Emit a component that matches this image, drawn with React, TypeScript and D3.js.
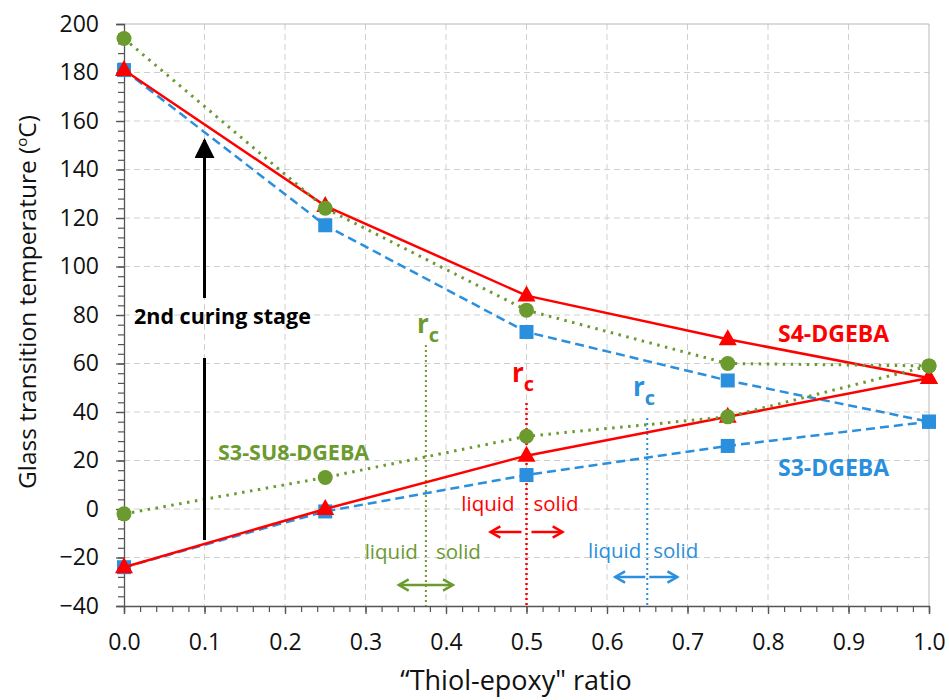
// @ts-nocheck
import React from "react";
import * as d3 from "d3";

const ratios = [0, 0.25, 0.5, 0.75, 1.0];
const s4Upper = [181, 125, 88, 70, 54];
const s4Lower = [-24, 0, 22, 38, 54];
const s3Upper = [181, 117, 73, 53, 36];
const s3Lower = [-24, -1, 14, 26, 36];
const su8Upper = [194, 124, 82, 60, 59];
const su8Lower = [-2, 13, 30, 38, 59];
const xTicks = [0, 0.1, 0.2, 0.3, 0.4, 0.5, 0.6, 0.7, 0.8, 0.9, 1.0];
const yTicks = [-40, -20, 0, 20, 40, 60, 80, 100, 120, 140, 160, 180, 200];
const rcValues = [0.375, 0.5, 0.65];

const RED = "#ff0000";
const BLUE = "#2a8fdc";
const GREEN = "#6b9a2f";
const FONT = "'Open Sans', 'Noto Sans', sans-serif";

const App = () => {
  const svgRef = React.useRef(null);
  const width = 949;
  const height = 700;
  const margin = { left: 124, right: 20, top: 24, bottom: 94 };

  React.useEffect(() => {
    const x = d3.scaleLinear().domain([0, 1]).range([margin.left, width - margin.right]);
    const y = d3.scaleLinear().domain([-40, 200]).range([height - margin.bottom, margin.top]);
    const svg = d3.select(svgRef.current);
    svg.selectAll("*").remove();
    svg.style("font-family", FONT);

    const x0 = x(0), x1 = x(1), yb = y(-40), yt = y(200);

    // dashed grid
    const grid = svg.append("g");
    grid.selectAll(".gx").data(xTicks.slice(1, -1)).enter().append("line")
      .attr("x1", d => x(d)).attr("x2", d => x(d)).attr("y1", yt).attr("y2", yb)
      .attr("stroke", "#cfcfcf").attr("stroke-width", 1).attr("stroke-dasharray", "6,4");
    grid.selectAll(".gy").data(yTicks.slice(1, -1)).enter().append("line")
      .attr("x1", x0).attr("x2", x1).attr("y1", d => y(d)).attr("y2", d => y(d))
      .attr("stroke", "#cfcfcf").attr("stroke-width", 1).attr("stroke-dasharray", "6,4");
    // border top/right
    svg.append("line").attr("x1", x0).attr("x2", x1).attr("y1", yt).attr("y2", yt).attr("stroke", "#b8b8b8");
    svg.append("line").attr("x1", x1).attr("x2", x1).attr("y1", yt).attr("y2", yb).attr("stroke", "#b8b8b8");

    // axes
    const xAxis = d3.axisBottom(x).tickValues(xTicks).tickFormat(d3.format(".1f")).tickSize(8).tickPadding(20);
    const xg = svg.append("g").attr("transform", `translate(0,${yb})`).call(xAxis);
    xg.selectAll("text").attr("font-size", 23).attr("fill", "#111").attr("font-family", FONT);
    xg.selectAll("line, path").attr("stroke", "#555").attr("stroke-width", 1.3);
    const xMinor = d3.axisBottom(x).tickValues(d3.range(0, 1.0001, 0.02)).tickSize(6).tickFormat("");
    const xmg = svg.append("g").attr("transform", `translate(0,${yb})`).call(xMinor);
    xmg.select(".domain").remove();
    xmg.selectAll("line").attr("stroke", "#555").attr("stroke-width", 1.2);

    const yAxis = d3.axisLeft(y).tickValues(yTicks).tickSize(8).tickPadding(17);
    const yg = svg.append("g").attr("transform", `translate(${x0},0)`).call(yAxis);
    yg.selectAll("text").attr("font-size", 23).attr("fill", "#111").attr("font-family", FONT);
    yg.selectAll("line, path").attr("stroke", "#555").attr("stroke-width", 1.3);
    const yMinor = d3.axisLeft(y).tickValues(d3.range(-40, 200.001, 4)).tickSize(6).tickFormat("");
    const ymg = svg.append("g").attr("transform", `translate(${x0},0)`).call(yMinor);
    ymg.select(".domain").remove();
    ymg.selectAll("line").attr("stroke", "#555").attr("stroke-width", 1.2);

    // axis titles
    svg.append("text").attr("x", 516).attr("y", 690).attr("text-anchor", "middle")
      .attr("font-size", 27).attr("fill", "#111").text("\u201CThiol-epoxy\" ratio");
    const yl = svg.append("text").attr("transform", `translate(36,302) rotate(-90)`)
      .attr("text-anchor", "middle").attr("font-size", 24.5).attr("fill", "#111");
    yl.append("tspan").text("Glass transition temperature (");
    yl.append("tspan").attr("dy", -9).attr("font-size", 15).text("o");
    yl.append("tspan").attr("dy", 9).text("C)");

    // arrow marker defs
    const defs = svg.append("defs");
    const mk = (id, color, size) => {
      defs.append("marker").attr("id", id).attr("viewBox", "0 0 10 10").attr("refX", 8).attr("refY", 5)
        .attr("markerWidth", size).attr("markerHeight", size).attr("orient", "auto-start-reverse")
        .attr("markerUnits", "userSpaceOnUse")
        .append("path").attr("d", "M1,1 L8,5 L1,9").attr("fill", "none").attr("stroke", color).attr("stroke-width", 1.8);
    };
    mk("aG", GREEN, 14); mk("aR", RED, 14); mk("aB", BLUE, 14);
    defs.append("marker").attr("id", "aK").attr("viewBox", "0 0 10 10").attr("refX", 9).attr("refY", 5)
      .attr("markerWidth", 20).attr("markerHeight", 20).attr("orient", "auto").attr("markerUnits", "userSpaceOnUse")
      .append("path").attr("d", "M0,0 L10,5 L0,10 Z").attr("fill", "#000");

    // rc dotted lines
    const rcColors = [GREEN, RED, BLUE];
    const rcTop = [345, 403, 418];
    rcValues.forEach((r, i) => {
      svg.append("line").attr("x1", x(r)).attr("x2", x(r)).attr("y1", rcTop[i]).attr("y2", yb)
        .attr("stroke", rcColors[i]).attr("stroke-width", i === 1 ? 2.5 : 2)
        .attr("stroke-dasharray", "2,3");
    });

    // series lines
    const line = d3.line().x((d, i) => x(ratios[i])).y(d => y(d));
    const series = [
      { up: s3Upper, lo: s3Lower, color: BLUE, dash: "9,5", w: 2.5, shape: "sq" },
      { up: s4Upper, lo: s4Lower, color: RED, dash: null, w: 2.5, shape: "tri" },
      { up: su8Upper, lo: su8Lower, color: GREEN, dash: "2.5,5.5", w: 3, shape: "circ" },
    ];
    series.forEach(s => {
      [s.up, s.lo].forEach(vals => {
        svg.append("path").attr("d", line(vals)).attr("fill", "none").attr("stroke", s.color)
          .attr("stroke-width", s.w).attr("stroke-dasharray", s.dash);
      });
      const pts = [];
      [s.up, s.lo].forEach(vals => vals.forEach((v, i) => pts.push([ratios[i], v])));
      const g = svg.append("g");
      pts.forEach(([r, v]) => {
        const cx = x(r), cy = y(v);
        if (s.shape === "sq") {
          g.append("rect").attr("x", cx - 7).attr("y", cy - 7).attr("width", 14).attr("height", 14).attr("fill", s.color);
        } else if (s.shape === "tri") {
          g.append("path").attr("d", `M${cx},${cy - 10} L${cx + 9},${cy + 6} L${cx - 9},${cy + 6} Z`).attr("fill", s.color);
        } else {
          g.append("circle").attr("cx", cx).attr("cy", cy).attr("r", 7.5).attr("fill", s.color);
        }
      });
    });

    // curing stage arrow
    const ax = x(0.1);
    svg.append("line").attr("x1", ax).attr("x2", ax).attr("y1", 540).attr("y2", 358).attr("stroke", "#000").attr("stroke-width", 3);
    svg.append("line").attr("x1", ax).attr("x2", ax).attr("y1", 298).attr("y2", 140).attr("stroke", "#000").attr("stroke-width", 3)
      .attr("marker-end", "url(#aK)");
    svg.append("text").attr("x", 134).attr("y", 324).attr("font-size", 21.5).attr("font-weight", "bold").attr("fill", "#000")
      .text("2nd curing stage");

    // series labels
    const label = (t, xx, yy, c, fs) => svg.append("text").attr("x", xx).attr("y", yy).attr("font-size", fs)
      .attr("font-weight", "bold").attr("fill", c).text(t);
    label("S4-DGEBA", 778, 342, RED, 23);
    label("S3-DGEBA", 778, 476, BLUE, 23);
    label("S3-SU8-DGEBA", 218, 460, GREEN, 21.5);

    // rc labels
    const rcLabel = (xx, yy, c) => {
      const t = svg.append("text").attr("x", xx).attr("y", yy).attr("font-size", 26).attr("font-weight", "bold").attr("fill", c);
      t.append("tspan").text("r");
      t.append("tspan").attr("dy", 9).attr("font-size", 20).text("c");
    };
    rcLabel(417, 333, GREEN);
    rcLabel(512, 382, RED);
    rcLabel(633, 396, BLUE);

    // liquid / solid
    const ls = (xl, xs, yy, c) => {
      svg.append("text").attr("x", xl).attr("y", yy).attr("font-size", 20.5).attr("fill", c).attr("text-anchor", "end").text("liquid");
      svg.append("text").attr("x", xs).attr("y", yy).attr("font-size", 20.5).attr("fill", c).text("solid");
    };
    ls(x(0.375) - 8, x(0.375) + 10, 559, GREEN);
    ls(x(0.5) - 12, x(0.5) + 7, 511, RED);
    ls(x(0.65) - 6, x(0.65) + 6, 558, BLUE);

    // direction arrows
    const gx = x(0.375);
    svg.append("line").attr("x1", gx - 27).attr("x2", gx + 27).attr("y1", 585).attr("y2", 585).attr("stroke", GREEN)
      .attr("stroke-width", 2.5).attr("marker-start", "url(#aG)").attr("marker-end", "url(#aG)");
    const rx = x(0.5);
    svg.append("line").attr("x1", rx - 5).attr("x2", rx - 36).attr("y1", 532).attr("y2", 532).attr("stroke", RED)
      .attr("stroke-width", 2.5).attr("marker-end", "url(#aR)");
    svg.append("line").attr("x1", rx + 5).attr("x2", rx + 36).attr("y1", 532).attr("y2", 532).attr("stroke", RED)
      .attr("stroke-width", 2.5).attr("marker-end", "url(#aR)");
    const bx = x(0.65);
    svg.append("line").attr("x1", bx - 2).attr("x2", bx - 32).attr("y1", 577).attr("y2", 577).attr("stroke", BLUE)
      .attr("stroke-width", 2.5).attr("marker-end", "url(#aB)");
    svg.append("line").attr("x1", bx + 2).attr("x2", bx + 30).attr("y1", 577).attr("y2", 577).attr("stroke", BLUE)
      .attr("stroke-width", 2.5).attr("marker-end", "url(#aB)");
  }, []);

  return <svg ref={svgRef} width={width} height={height}
    style={{ position: "absolute", left: 0, top: 0, background: "#fff" }} />;
};

export default App;
